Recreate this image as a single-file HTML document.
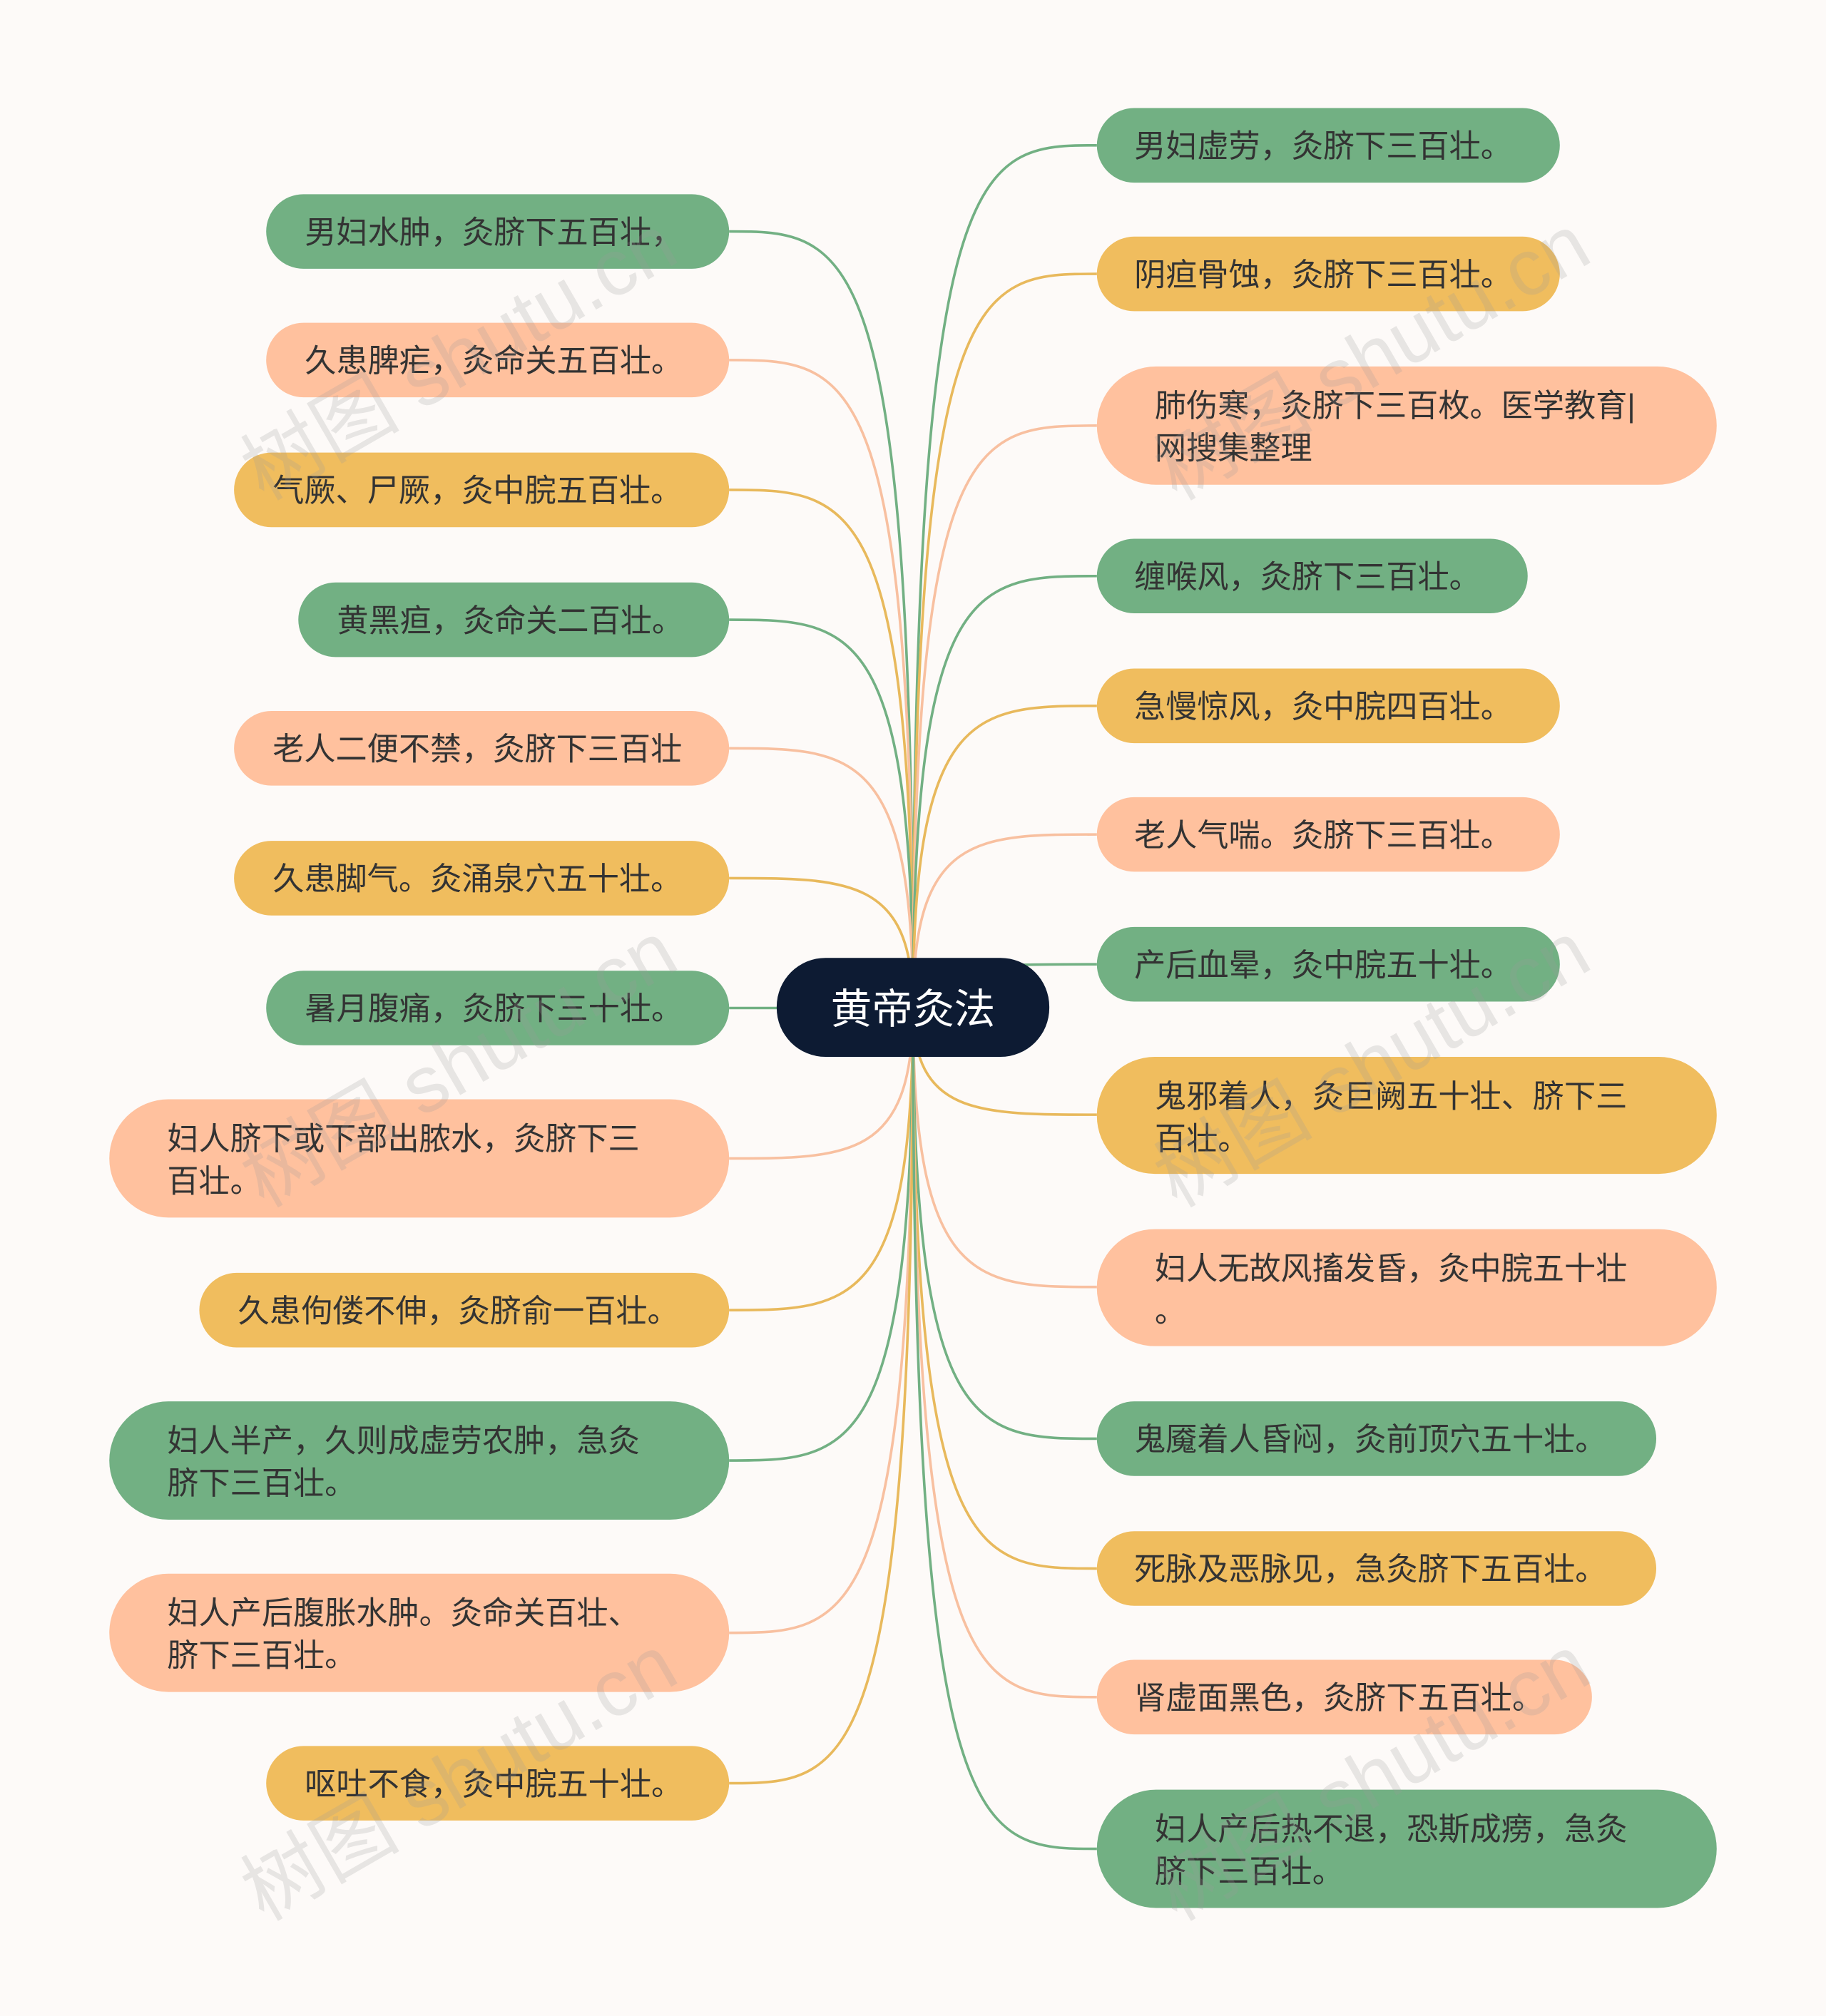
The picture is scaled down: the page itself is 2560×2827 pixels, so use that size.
<!DOCTYPE html>
<html><head><meta charset="utf-8"><style>
html,body{margin:0;padding:0;background:#fdfaf8;}
svg{display:block}
text{font-family:"Liberation Sans","Noto Sans CJK SC",sans-serif;}
</style></head><body>
<svg width="2560" height="2827" viewBox="0 0 1420 1568" xmlns="http://www.w3.org/2000/svg">
<rect width="1420" height="1568" fill="#fdfaf8"/>
<g fill="none" stroke-width="2">
<path d="M710,784 C710,180 660,180 567,180" stroke="#72b083"/>
<path d="M710,784 C710,280 660,280 567,280" stroke="#f8c0a0"/>
<path d="M710,784 C710,381 660,381 567,381" stroke="#e8b95c"/>
<path d="M710,784 C710,482 660,482 567,482" stroke="#72b083"/>
<path d="M710,784 C710,582 660,582 567,582" stroke="#f8c0a0"/>
<path d="M710,784 C710,683 660,683 567,683" stroke="#e8b95c"/>
<path d="M710,784 C710,784 660,784 567,784" stroke="#72b083"/>
<path d="M710,784 C710,901 660,901 567,901" stroke="#f8c0a0"/>
<path d="M710,784 C710,1019 660,1019 567,1019" stroke="#e8b95c"/>
<path d="M710,784 C710,1136 660,1136 567,1136" stroke="#72b083"/>
<path d="M710,784 C710,1270 660,1270 567,1270" stroke="#f8c0a0"/>
<path d="M710,784 C710,1387 660,1387 567,1387" stroke="#e8b95c"/>
<path d="M710,784 C710,113 760,113 853,113" stroke="#72b083"/>
<path d="M710,784 C710,213 760,213 853,213" stroke="#e8b95c"/>
<path d="M710,784 C710,331 760,331 853,331" stroke="#f8c0a0"/>
<path d="M710,784 C710,448 760,448 853,448" stroke="#72b083"/>
<path d="M710,784 C710,549 760,549 853,549" stroke="#e8b95c"/>
<path d="M710,784 C710,649 760,649 853,649" stroke="#f8c0a0"/>
<path d="M710,784 C710,750 760,750 853,750" stroke="#72b083"/>
<path d="M710,784 C710,867 760,867 853,867" stroke="#e8b95c"/>
<path d="M710,784 C710,1001 760,1001 853,1001" stroke="#f8c0a0"/>
<path d="M710,784 C710,1119 760,1119 853,1119" stroke="#72b083"/>
<path d="M710,784 C710,1220 760,1220 853,1220" stroke="#e8b95c"/>
<path d="M710,784 C710,1320 760,1320 853,1320" stroke="#f8c0a0"/>
<path d="M710,784 C710,1438 760,1438 853,1438" stroke="#72b083"/>
</g>
<g font-size="24.5" fill="#333">
<rect x="207" y="151" width="360" height="58" rx="29" fill="#72b083"/><text x="237" y="189">男妇水肿，灸脐下五百壮，</text>
<rect x="207" y="251" width="360" height="58" rx="29" fill="#ffc19e"/><text x="237" y="289">久患脾疟，灸命关五百壮。</text>
<rect x="182" y="352" width="385" height="58" rx="29" fill="#f0bd5e"/><text x="212" y="390">气厥、尸厥，灸中脘五百壮。</text>
<rect x="232" y="453" width="335" height="58" rx="29" fill="#72b083"/><text x="262" y="491">黄黑疸，灸命关二百壮。</text>
<rect x="182" y="553" width="385" height="58" rx="29" fill="#ffc19e"/><text x="212" y="591">老人二便不禁，灸脐下三百壮</text>
<rect x="182" y="654" width="385" height="58" rx="29" fill="#f0bd5e"/><text x="212" y="692">久患脚气。灸涌泉穴五十壮。</text>
<rect x="207" y="755" width="360" height="58" rx="29" fill="#72b083"/><text x="237" y="793">暑月腹痛，灸脐下三十壮。</text>
<rect x="85" y="855" width="482" height="92" rx="46" fill="#ffc19e"/><text x="130" y="894">妇人脐下或下部出脓水，灸脐下三</text><text x="130" y="927">百壮。</text>
<rect x="155" y="990" width="412" height="58" rx="29" fill="#f0bd5e"/><text x="185" y="1028">久患佝偻不伸，灸脐俞一百壮。</text>
<rect x="85" y="1090" width="482" height="92" rx="46" fill="#72b083"/><text x="130" y="1129">妇人半产，久则成虚劳农肿，急灸</text><text x="130" y="1162">脐下三百壮。</text>
<rect x="85" y="1224" width="482" height="92" rx="46" fill="#ffc19e"/><text x="130" y="1263">妇人产后腹胀水肿。灸命关百壮、</text><text x="130" y="1296">脐下三百壮。</text>
<rect x="207" y="1358" width="360" height="58" rx="29" fill="#f0bd5e"/><text x="237" y="1396">呕吐不食，灸中脘五十壮。</text>
<rect x="853" y="84" width="360" height="58" rx="29" fill="#72b083"/><text x="882" y="122">男妇虚劳，灸脐下三百壮。</text>
<rect x="853" y="184" width="360" height="58" rx="29" fill="#f0bd5e"/><text x="882" y="222">阴疸骨蚀，灸脐下三百壮。</text>
<rect x="853" y="285" width="482" height="92" rx="46" fill="#ffc19e"/><text x="898" y="324">肺伤寒，灸脐下三百枚。医学教育|</text><text x="898" y="357">网搜集整理</text>
<rect x="853" y="419" width="335" height="58" rx="29" fill="#72b083"/><text x="882" y="457">缠喉风，灸脐下三百壮。</text>
<rect x="853" y="520" width="360" height="58" rx="29" fill="#f0bd5e"/><text x="882" y="558">急慢惊风，灸中脘四百壮。</text>
<rect x="853" y="620" width="360" height="58" rx="29" fill="#ffc19e"/><text x="882" y="658">老人气喘。灸脐下三百壮。</text>
<rect x="853" y="721" width="360" height="58" rx="29" fill="#72b083"/><text x="882" y="759">产后血晕，灸中脘五十壮。</text>
<rect x="853" y="822" width="482" height="91" rx="45" fill="#f0bd5e"/><text x="898" y="861">鬼邪着人，灸巨阙五十壮、脐下三</text><text x="898" y="894">百壮。</text>
<rect x="853" y="956" width="482" height="91" rx="45" fill="#ffc19e"/><text x="898" y="995">妇人无故风搐发昏，灸中脘五十壮</text><text x="898" y="1028">。</text>
<rect x="853" y="1090" width="435" height="58" rx="29" fill="#72b083"/><text x="882" y="1128">鬼魇着人昏闷，灸前顶穴五十壮。</text>
<rect x="853" y="1191" width="435" height="58" rx="29" fill="#f0bd5e"/><text x="882" y="1229">死脉及恶脉见，急灸脐下五百壮。</text>
<rect x="853" y="1291" width="385" height="58" rx="29" fill="#ffc19e"/><text x="882" y="1329">肾虚面黑色，灸脐下五百壮。</text>
<rect x="853" y="1392" width="482" height="92" rx="46" fill="#72b083"/><text x="898" y="1431">妇人产后热不退，恐斯成痨，急灸</text><text x="898" y="1464">脐下三百壮。</text>
</g>
<rect x="604" y="745" width="212" height="77" rx="38" fill="#0d1b33"/>
<text x="710" y="796" font-size="32" fill="#fff" text-anchor="middle">黄帝灸法</text>
<g font-size="62" fill="#999" opacity="0.22" font-family="Liberation Serif, Noto Serif CJK SC, serif">
<text transform="translate(205,390) rotate(-30)">树图 shutu.cn</text>
<text transform="translate(205,940) rotate(-30)">树图 shutu.cn</text>
<text transform="translate(205,1495) rotate(-30)">树图 shutu.cn</text>
<text transform="translate(915,390) rotate(-30)">树图 shutu.cn</text>
<text transform="translate(915,940) rotate(-30)">树图 shutu.cn</text>
<text transform="translate(915,1495) rotate(-30)">树图 shutu.cn</text>
</g>
</svg>
</body></html>
